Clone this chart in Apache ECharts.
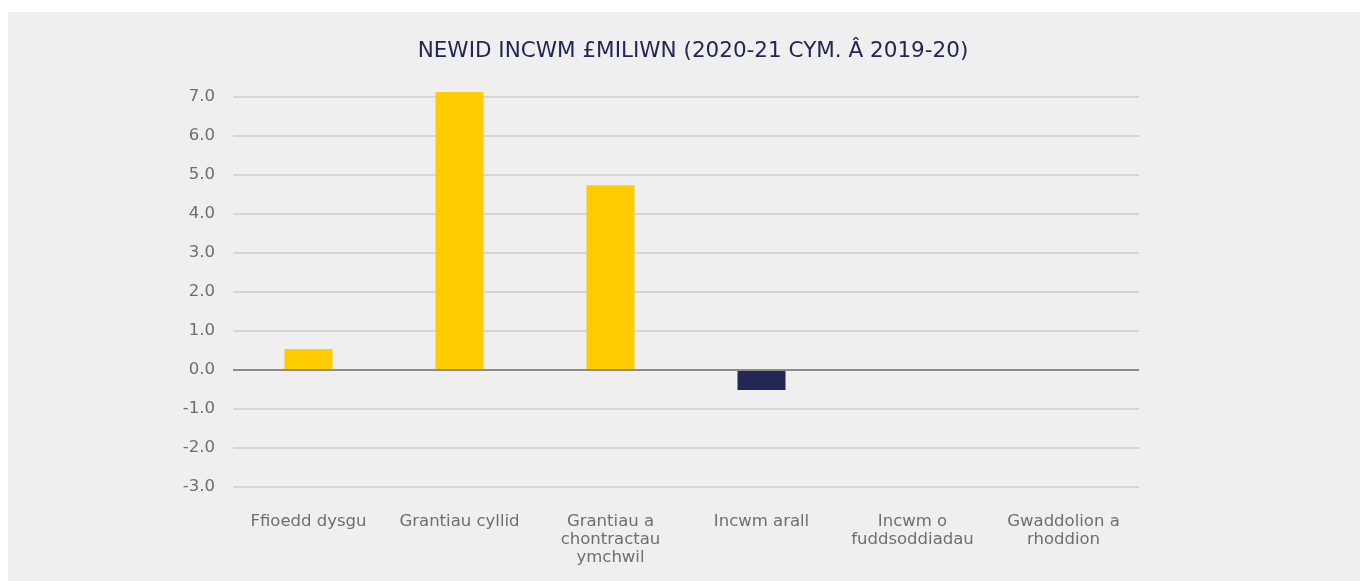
<!DOCTYPE html>
<html>
<head>
<meta charset="utf-8">
<script src="https://cdn.jsdelivr.net/npm/echarts@6/dist/echarts.min.js"></script>
<style>
  html, body { margin: 0; padding: 0; background: #fff; }
  #chart { width: 1360px; height: 581px; }
</style>
</head>
<body>
<div id="chart"></div>
<script>
// newid incwm, £m (2020-21 o'i gymharu â 2019-20)
var categories = [
  "Ffioedd dysgu",
  "Grantiau cyllid",
  "Grantiau a\nchontractau\nymchwil",
  "Incwm arall",
  "Incwm o\nfuddsoddiadau",
  "Gwaddolion a\nrhoddion"
];
var values = [0.54, 7.13, 4.74, -0.51, 0, 0];

var yTicks = { min: -3, max: 7, interval: 1 };

var font = "'DejaVu Sans', sans-serif";

var chart = echarts.init(document.getElementById("chart"));

chart.setOption({
  animation: false,
  backgroundColor: "#ffffff",
  textStyle: { fontFamily: font },
  graphic: [{
    type: "rect",
    z: -10,
    shape: { x: 8, y: 12, width: 1352, height: 569 },
    style: { fill: "#efefef" }
  }],
  title: {
    text: "NEWID INCWM £MILIWN (2020-21 CYM. Â 2019-20)",
    left: 688,
    textAlign: "center",
    top: 35,
    textStyle: {
      color: "#232755",
      fontSize: 21.5,
      fontWeight: "normal",
      fontFamily: font
    }
  },
  grid: { left: 233, right: 221, top: 97, bottom: 94 },
  xAxis: {
    type: "category",
    data: categories,
    axisTick: { show: false },
    axisLine: { show: false },
    axisLabel: {
      color: "#6e6e6e",
      fontSize: 16.5,
      lineHeight: 18,
      margin: 26,
      interval: 0
    }
  },
  yAxis: {
    type: "value",
    min: yTicks.min,
    max: yTicks.max,
    interval: yTicks.interval,
    axisLine: { show: false },
    axisTick: { show: false },
    axisLabel: {
      color: "#6e6e6e",
      fontSize: 16.5,
      margin: 18,
      formatter: function (v) { return v.toFixed(1); }
    },
    splitLine: { lineStyle: { color: "#d6d6d6", width: 2 } }
  },
  series: [{
    type: "bar",
    clip: false,
    data: values.map(function (v) {
      return { value: v, itemStyle: { color: v < 0 ? "#232755" : "#ffcc00" } };
    }),
    barWidth: 48,
    z: 2,
    markLine: {
      silent: true,
      symbol: "none",
      label: { show: false },
      lineStyle: { color: "#8c8c8c", width: 2, type: "solid" },
      data: [{ yAxis: 0 }]
    }
  }]
});
</script>
</body>
</html>
